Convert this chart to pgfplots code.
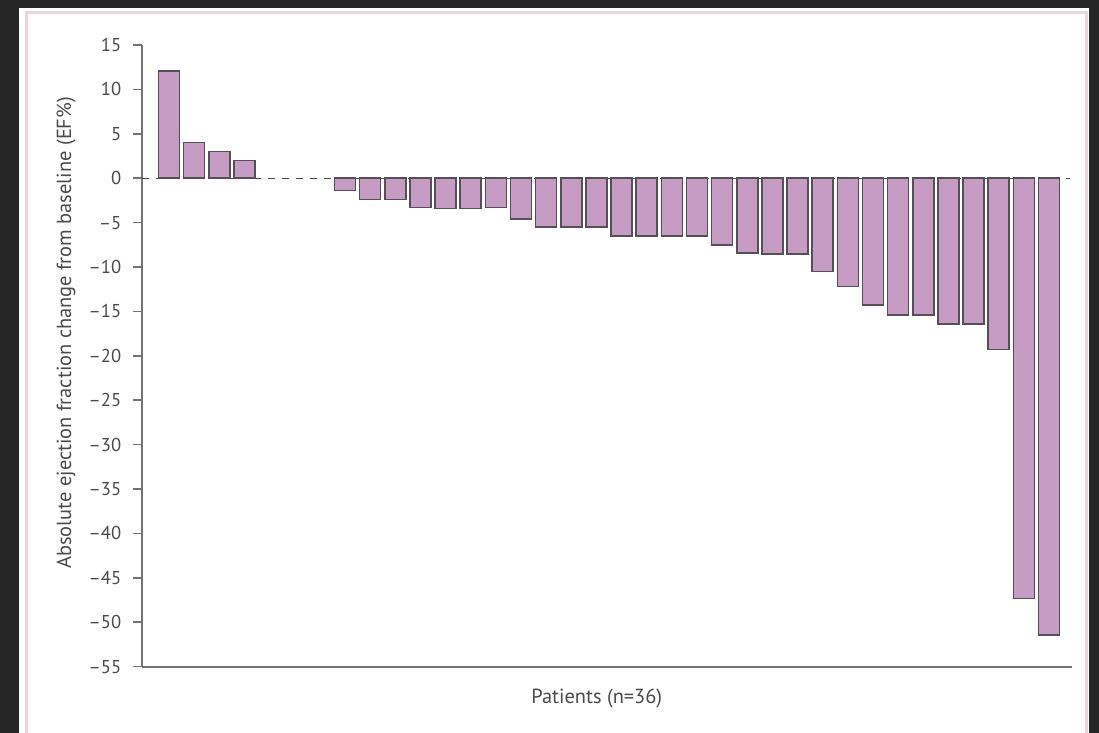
\documentclass[border=0pt]{standalone}
\usepackage{fontspec}
\setmainfont{PT Sans}
\usepackage{pgfplots}
\pgfplotsset{compat=1.18}
\definecolor{bg}{HTML}{262626}
\definecolor{barfill}{HTML}{C69BC4}
\definecolor{baredge}{HTML}{555055}
\definecolor{axgray}{HTML}{737373}
\definecolor{txt}{HTML}{4A4A4A}
\definecolor{pinkb}{HTML}{EFD5E1}
\pgfplotstableread{
x y
0 12.1
1 4.0
2 3.0
3 2.0
7 -1.4
8 -2.4
9 -2.4
10 -3.3
11 -3.4
12 -3.4
13 -3.3
14 -4.6
15 -5.5
16 -5.5
17 -5.5
18 -6.5
19 -6.5
20 -6.5
21 -6.5
22 -7.5
23 -8.4
24 -8.5
25 -8.5
26 -10.5
27 -12.2
28 -14.3
29 -15.4
30 -15.4
31 -16.4
32 -16.4
33 -19.3
34 -47.3
35 -51.4
}\efdata
\begin{document}
\begin{tikzpicture}
\useasboundingbox (0pt,0pt) rectangle (549.5pt,366.5pt);
\fill[bg] (0pt,0pt) rectangle (549.5pt,366.5pt);
\fill[white] (9.5pt,0pt) rectangle (544.5pt,362.5pt);
\draw[pinkb, line width=1.5pt] (13.25pt,0pt) -- (13.25pt,360.25pt) -- (543.25pt,360.25pt) -- (543.25pt,0pt);
\begin{axis}[
  at={(71.15pt,33.15pt)}, anchor=south west,
  scale only axis, width=464.7pt, height=310.85pt,
  xmin=-1.06, xmax=35.9, ymin=-55, ymax=15,
  axis x line=bottom, axis y line=left,
  axis line style={-, axgray, line width=1pt},
  xtick=\empty,
  ytick={-55,-50,...,15},
  yticklabels={–55,–50,–45,–40,–35,–30,–25,–20,–15,–10,–5,0,5,10,15},
  tick align=outside, major tick length=4.5pt,
  y tick style={axgray, line width=0.8pt},
  tick label style={font=\fontsize{9.3}{11}\selectfont, text=txt},
  yticklabel style={xshift=-2.5pt},
  label style={font=\fontsize{10.2}{12}\selectfont, text=txt},
  ylabel={Absolute ejection fraction change from baseline (EF\%)},
  ylabel style={at={(axis description cs:0,0.537)}, anchor=center, yshift=38.15pt},
  xlabel={Patients (n=36)},
  xlabel style={at={(axis description cs:0.489,0)}, anchor=center, yshift=-15.65pt},
  clip=false,
]
\addplot[sharp plot, color=txt, line width=0.6pt, dash pattern=on 3.5pt off 3.5pt] coordinates {(-1.06,0) (35.85,0)};
\addplot[ybar, bar width=10.5pt, fill=barfill, draw=baredge, line width=0.8pt] table[x=x,y=y] {\efdata};
\end{axis}
\end{tikzpicture}
\end{document}
